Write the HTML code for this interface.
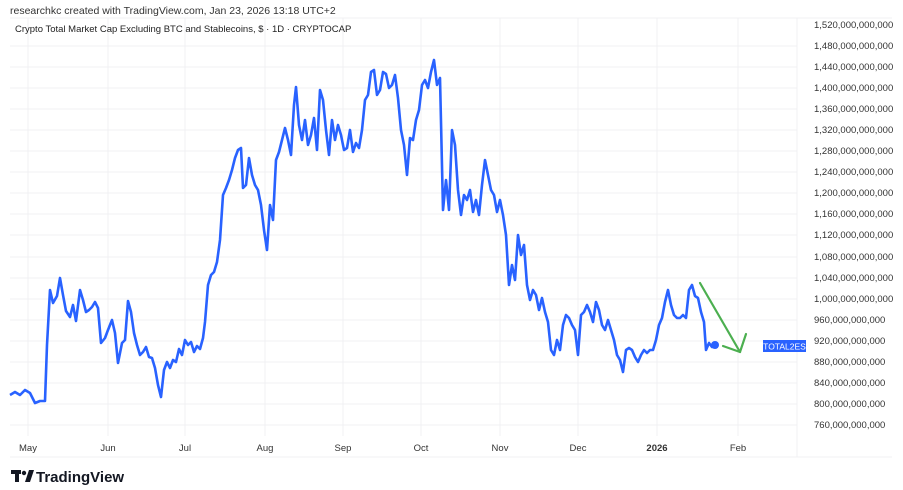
<!DOCTYPE html>
<html><head><meta charset="utf-8"><style>
html,body{margin:0;padding:0;background:#fff;width:903px;height:490px;overflow:hidden;font-family:"Liberation Sans",sans-serif;}
</style></head><body>
<svg width="903" height="490" xmlns="http://www.w3.org/2000/svg" font-family="Liberation Sans, sans-serif">
<rect width="903" height="490" fill="#fff"/>
<text x="10" y="14" font-size="10.5" fill="#333">researchkc created with TradingView.com, Jan 23, 2026 13:18 UTC+2</text>
<g stroke="#f0f1f3" stroke-width="1">
<line x1="10" y1="18" x2="892" y2="18"/>
<line x1="10" y1="457" x2="892" y2="457"/>
<line x1="797" y1="18" x2="797" y2="457"/>
<line x1="28" y1="18" x2="28" y2="436"/><line x1="108" y1="18" x2="108" y2="436"/><line x1="185" y1="18" x2="185" y2="436"/><line x1="265" y1="18" x2="265" y2="436"/><line x1="343" y1="18" x2="343" y2="436"/><line x1="421" y1="18" x2="421" y2="436"/><line x1="500" y1="18" x2="500" y2="436"/><line x1="578" y1="18" x2="578" y2="436"/><line x1="657" y1="18" x2="657" y2="436"/><line x1="738" y1="18" x2="738" y2="436"/>
<line x1="10" y1="46" x2="797" y2="46"/><line x1="10" y1="67" x2="797" y2="67"/><line x1="10" y1="88" x2="797" y2="88"/><line x1="10" y1="109" x2="797" y2="109"/><line x1="10" y1="130" x2="797" y2="130"/><line x1="10" y1="151" x2="797" y2="151"/><line x1="10" y1="172" x2="797" y2="172"/><line x1="10" y1="193" x2="797" y2="193"/><line x1="10" y1="214" x2="797" y2="214"/><line x1="10" y1="235" x2="797" y2="235"/><line x1="10" y1="257" x2="797" y2="257"/><line x1="10" y1="278" x2="797" y2="278"/><line x1="10" y1="299" x2="797" y2="299"/><line x1="10" y1="320" x2="797" y2="320"/><line x1="10" y1="341" x2="797" y2="341"/><line x1="10" y1="362" x2="797" y2="362"/><line x1="10" y1="383" x2="797" y2="383"/><line x1="10" y1="404" x2="797" y2="404"/><line x1="10" y1="425" x2="797" y2="425"/>
</g>
<text x="15" y="32" font-size="9.5" fill="#222">Crypto Total Market Cap Excluding BTC and Stablecoins, $ · 1D · CRYPTOCAP</text>
<g font-size="9.5" fill="#333">
<text x="814" y="28">1,520,000,000,000</text><text x="814" y="49">1,480,000,000,000</text><text x="814" y="70">1,440,000,000,000</text><text x="814" y="91">1,400,000,000,000</text><text x="814" y="112">1,360,000,000,000</text><text x="814" y="133">1,320,000,000,000</text><text x="814" y="154">1,280,000,000,000</text><text x="814" y="175">1,240,000,000,000</text><text x="814" y="196">1,200,000,000,000</text><text x="814" y="217">1,160,000,000,000</text><text x="814" y="238">1,120,000,000,000</text><text x="814" y="260">1,080,000,000,000</text><text x="814" y="281">1,040,000,000,000</text><text x="814" y="302">1,000,000,000,000</text><text x="814" y="323">960,000,000,000</text><text x="814" y="344">920,000,000,000</text><text x="814" y="365">880,000,000,000</text><text x="814" y="386">840,000,000,000</text><text x="814" y="407">800,000,000,000</text><text x="814" y="428">760,000,000,000</text>
</g>
<g font-size="9.5" fill="#333" text-anchor="middle">
<text x="28" y="451">May</text><text x="108" y="451">Jun</text><text x="185" y="451">Jul</text><text x="265" y="451">Aug</text><text x="343" y="451">Sep</text><text x="421" y="451">Oct</text><text x="500" y="451">Nov</text><text x="578" y="451">Dec</text><text x="657" y="451" font-weight="bold">2026</text><text x="738" y="451">Feb</text>
</g>
<polyline fill="none" stroke="#2962ff" stroke-width="2.6" stroke-linejoin="round" points="10,395 15,392 20,395 25,390 30,393 35,403 40,401 45,401 47,345 50,290 53,303 57,296 60,278 63,295 66,311 70,317 73,305 76,321 80,290 83,300 86,312 89,310 92,307 95,302 98,308 101,343 105,338 108,330 112,320 115,333 118,363 122,343 125,340 128,301 131,312 134,333 137,345 140,355 143,352 146,347 149,357 152,358 155,368 158,385 161,397 164,370 167,362 170,368 173,360 176,362 179,349 182,355 185,340 188,345 191,342 194,352 197,346 200,349 203,338 205,322 208,285 211,275 214,272 217,262 220,240 223,195 226,188 229,180 232,170 235,158 238,150 241,148 243,188 246,185 249,158 252,175 255,185 258,190 261,205 264,230 267,250 270,205 273,220 276,160 279,152 282,140 285,128 288,140 291,155 294,105 296,87 299,125 302,140 305,120 308,145 311,135 314,118 317,150 320,90 323,100 326,130 329,155 332,120 335,140 338,125 341,135 344,150 347,148 350,130 353,152 356,143 359,148 362,130 365,100 368,95 371,72 374,70 377,95 380,90 383,72 386,74 389,88 392,85 395,75 398,98 401,130 404,145 407,175 410,138 413,140 416,120 419,110 422,85 425,80 428,88 431,72 434,60 437,85 440,78 443,210 446,180 449,210 452,130 455,145 458,190 461,215 464,195 467,200 470,190 473,212 476,200 479,215 482,185 485,160 488,175 491,190 494,195 497,212 500,200 503,215 506,235 509,285 512,265 515,280 518,235 521,255 524,245 527,285 530,300 533,290 536,295 539,310 542,298 545,312 548,322 551,350 554,355 557,340 560,350 563,325 566,315 569,318 572,325 575,330 578,355 581,315 584,312 587,305 590,312 593,322 596,302 599,310 602,325 605,330 608,320 611,330 614,340 617,355 620,360 623,372 626,350 629,348 632,350 635,357 638,362 641,355 644,350 647,353 650,350 653,350 656,340 659,325 662,318 665,302 668,290 671,305 674,315 677,318 680,318 683,315 686,318 689,290 692,285 695,296 698,298 701,312 704,322 706,350 709,343 712,347 715,345"/>
<circle cx="715" cy="345" r="4" fill="#2962ff"/>
<g stroke="#4caf50" stroke-width="2.2" fill="none" stroke-linecap="round" stroke-linejoin="round">
<line x1="700" y1="283" x2="740" y2="352"/><polyline points="723,346 740,352 746,334"/>
</g>
<rect x="763" y="340" width="43" height="12" fill="#2962ff"/>
<text x="784.5" y="349.5" font-size="8.5" fill="#fff" text-anchor="middle">TOTAL2ES</text>
<g fill="#131722">
<rect x="11" y="470" width="10" height="4"/><rect x="15" y="470" width="4" height="12"/>
<circle cx="24" cy="473" r="2.2"/><polygon points="25,482 29,470 34,470 30,482"/>
</g>
<text x="36" y="482" font-size="15" font-weight="bold" fill="#131722">TradingView</text>
</svg>
</body></html>
